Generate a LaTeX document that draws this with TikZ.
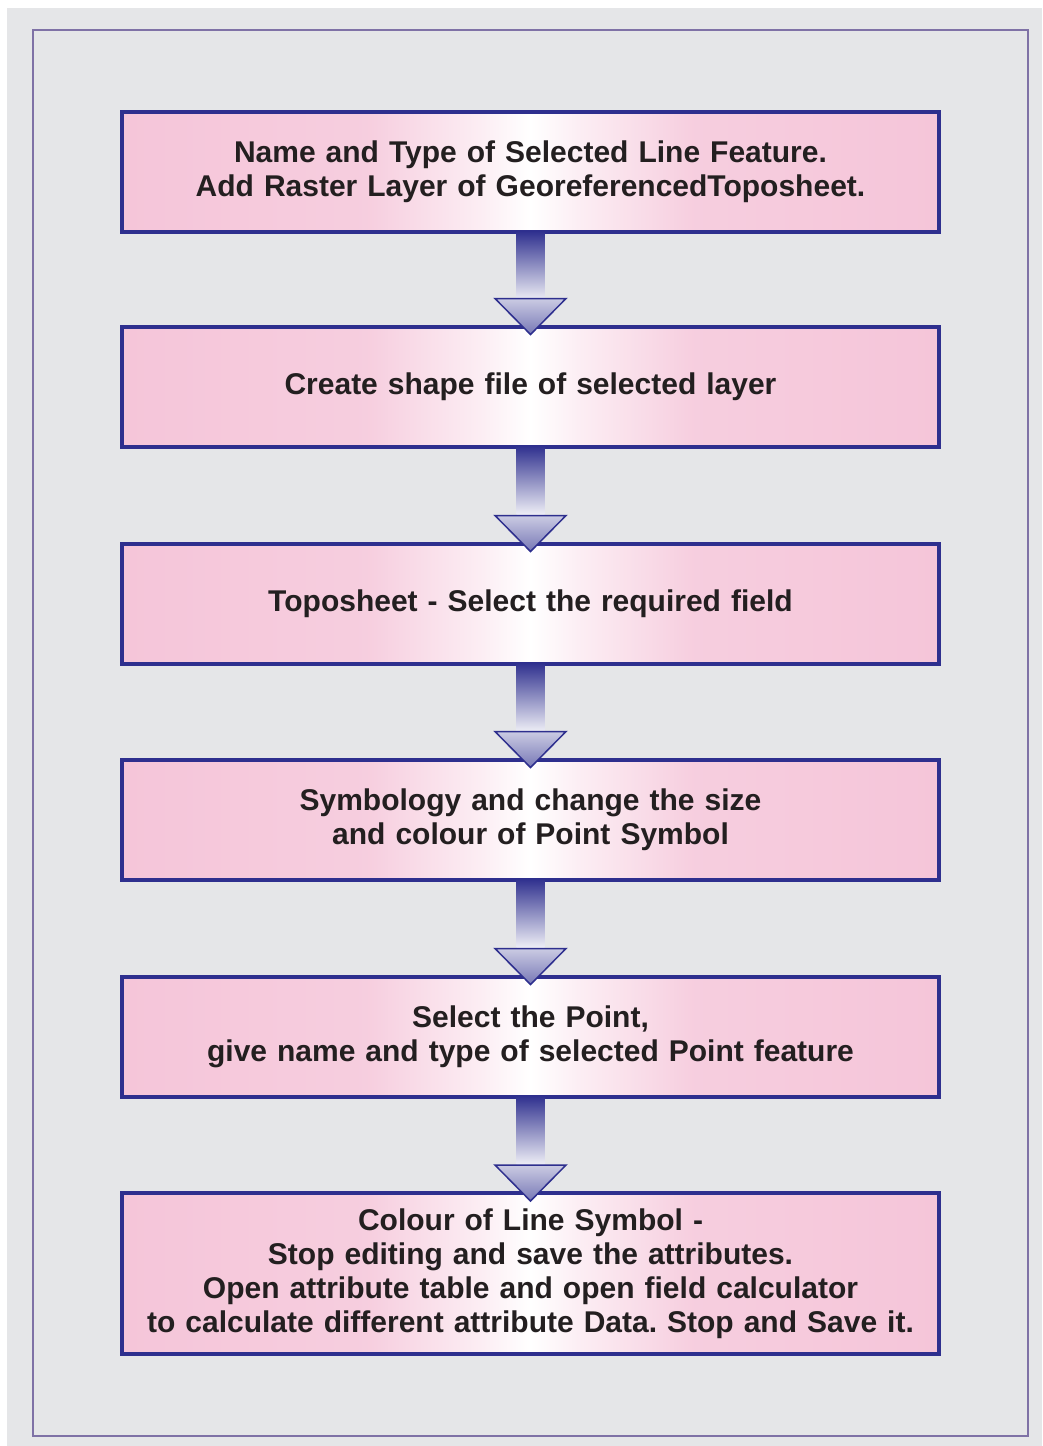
\documentclass[tikz,border=0pt]{standalone}
\usepackage{fontspec}
\setmainfont{Liberation Sans}
\frenchspacing
\definecolor{pagegray}{HTML}{E5E6E8}
\definecolor{framepurple}{HTML}{7F72A6}
\definecolor{boxnavy}{HTML}{2E2F8E}
\definecolor{boxpink}{HTML}{F5C5D9}
\definecolor{textdark}{HTML}{231F20}
\pgfdeclarehorizontalshading{boxshade}{100bp}{color(0bp)=(boxpink); color(25bp)=(boxpink); color(40bp)=(boxpink!85!white); color(47bp)=(boxpink!30!white); color(50bp)=(white); color(53bp)=(boxpink!30!white); color(60bp)=(boxpink!85!white); color(75bp)=(boxpink); color(100bp)=(boxpink)}
\begin{document}
\begin{tikzpicture}[x=1pt,y=-1pt,
    stepbox/.style={draw=boxnavy,line width=4pt,shading=boxshade,
      minimum width=817pt,minimum height=120pt,text width=805pt,align=center,
      text=textdark,font=\fontsize{30}{34}\selectfont\bfseries},
    shaftfill/.style={top color=boxnavy,bottom color=boxnavy!8!white},
    headfill/.style={draw=boxnavy,line width=1.5pt,top color=boxnavy!25!white,bottom color=boxnavy!65!white,line join=miter}]

      \fill[white] (0,0) rectangle (1042,1446);
      \fill[pagegray] (7,8) rectangle (1042,1446);
      \draw[framepurple,line width=2pt] (33,30) rectangle (1028,1436);

      \begin{scope}[every node/.style={stepbox}]
        \node (s1) at (530.5,172)    {Name and Type of Selected Line Feature.\\Add Raster Layer of GeoreferencedToposheet.};
        \node (s2) at (530.5,386.5)  {Create shape file of selected layer};
        \node (s3) at (530.5,603.5)  {Toposheet - Select the required field};
        \node (s4) at (530.5,819.5)  {Symbology and change the size\\and colour of Point Symbol};
        \node (s5) at (530.5,1036.5) {Select the Point,\\give name and type of selected Point feature};
        \node[minimum height=161pt] (s6) at (530.5,1273.5) {Colour of Line Symbol -\\Stop editing and save the attributes.\\Open attribute table and open field calculator\\to calculate different attribute Data. Stop and Save it.};
      \end{scope}

      \foreach \a/\b in {1/2,2/3,3/4,4/5,5/6} {
        \shade[shaftfill] (s\a.south) ++(-14,-3) rectangle ++(28,69);
        \draw[headfill] (s\b.north) ++(-35.5,-26) -- ++(71,0) -- ++(-35.5,36) -- cycle;
      }

    \end{tikzpicture}
\end{document}
